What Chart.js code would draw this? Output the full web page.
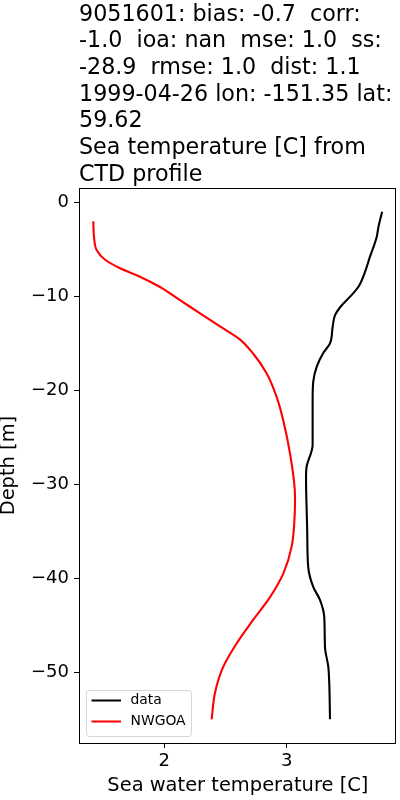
<!DOCTYPE html>
<html><head><meta charset="utf-8">
<script src="https://cdn.jsdelivr.net/npm/chart.js@4/dist/chart.umd.min.js"></script>
<style>html,body{margin:0;padding:0;background:#fff;} #wrap{width:400px;height:800px;}</style>
</head><body><div id="wrap"><canvas id="c" width="400" height="800"></canvas></div>
<script>
const titleLines = [
  '9051601: bias: -0.7  corr:',
  '-1.0  ioa: nan  mse: 1.0  ss:',
  '-28.9  rmse: 1.0  dist: 1.1',
  '1999-04-26 lon: -151.35 lat:',
  '59.62',
  'Sea temperature [C] from',
  'CTD profile'
];
const seriesNames = ['data', 'NWGOA'];
const xAxisTitle = 'Sea water temperature [C]';
const yAxisTitle = 'Depth [m]';

// observed CTD profile
const dataDepth = [-1, -2.6, -3.7, -5.8, -7.4, -9, -10, -11.1, -12, -13.2, -15, -16, -17.5, -19.1, -21, -25.8, -28.1, -29.2, -35.2, -38.8, -40.9, -42.3, -44.1, -47.3, -49.4, -51.2, -55];
const dataTemp  = [3.78, 3.75, 3.735, 3.68, 3.64, 3.585, 3.52, 3.44, 3.395, 3.376, 3.354, 3.30, 3.245, 3.217, 3.212, 3.212, 3.163, 3.158, 3.168, 3.176, 3.217, 3.272, 3.307, 3.313, 3.340, 3.348, 3.354];

// model profile (NWGOA)
const modelDepth = [-2, -3.7, -5.1, -6.1, -7, -7.9, -9, -10.4, -11.8, -13.2, -14.6, -16.1, -18.2, -20.7, -23.2, -26.7, -31.3, -33.1, -36.6, -39.5, -42, -44.4, -46.9, -49.4, -52.2, -55];
const modelTemp  = [1.42, 1.426, 1.448, 1.516, 1.638, 1.801, 1.965, 2.128, 2.292, 2.455, 2.619, 2.727, 2.837, 2.918, 2.972, 3.027, 3.068, 3.066, 3.041, 2.972, 2.864, 2.727, 2.592, 2.482, 2.414, 2.387];

const xTickValues = [2, 3];
const yTickValues = [0, -10, -20, -30, -40, -50];

Chart.defaults.font.family = "'DejaVu Sans', sans-serif";
Chart.defaults.color = '#000';

const fmt = v => (v < 0 ? '\u2212' + Math.abs(v) : String(v));

const framePlugin = {
  id: 'frame',
  afterLayout(chart) {
    if (chart.titleBlock) chart.titleBlock.left = chart.chartArea.left;
  },
  afterDraw(chart) {
    const ctx = chart.ctx, a = chart.chartArea;
    ctx.save();
    ctx.strokeStyle = '#000';
    ctx.lineWidth = 1;
    const l = Math.floor(a.left) + 0.5, t = Math.floor(a.top) + 0.5;
    const r = Math.floor(a.right) - 0.5, b = Math.round(a.bottom) + 0.5;
    ctx.strokeRect(l, t, r - l, b - t);

    // legend (lower left inside axes)
    const lx = a.left + 7, lb = a.bottom - 7, lw = 105, lh = 46;
    const ly = lb - lh;
    ctx.beginPath();
    ctx.roundRect(lx + 0.5, ly + 0.5, lw, lh, 3);
    ctx.fillStyle = 'rgba(255,255,255,0.8)';
    ctx.fill();
    ctx.strokeStyle = 'rgba(204,204,204,0.8)';
    ctx.lineWidth = 1;
    ctx.stroke();
    const rows = [lb - 35.5, lb - 14.5];
    ctx.font = "13.9px 'DejaVu Sans', sans-serif";
    ctx.textBaseline = 'middle';
    ctx.textAlign = 'left';
    chart.data.datasets.forEach((ds, i) => {
      ctx.beginPath();
      ctx.strokeStyle = ds.borderColor;
      ctx.lineWidth = 2;
      ctx.moveTo(lx + 5.5, rows[i]);
      ctx.lineTo(lx + 35, rows[i]);
      ctx.stroke();
      ctx.fillStyle = '#000';
      ctx.fillText(ds.label, lx + 44.5, rows[i]);
    });
    ctx.restore();
  }
};

new Chart(document.getElementById('c'), {
  type: 'line',
  data: {
    datasets: [
      {
        label: seriesNames[0],
        data: dataDepth.map((d, i) => ({ x: dataTemp[i], y: d })),
        borderColor: '#000000',
        backgroundColor: '#000000',
        borderWidth: 2.1,
        pointRadius: 0,
        cubicInterpolationMode: 'monotone',
        fill: false
      },
      {
        label: seriesNames[1],
        data: modelDepth.map((d, i) => ({ x: modelTemp[i], y: d })),
        borderColor: '#ff0000',
        backgroundColor: '#ff0000',
        borderWidth: 2.1,
        pointRadius: 0,
        cubicInterpolationMode: 'monotone',
        fill: false
      }
    ]
  },
  options: {
    indexAxis: 'y',
    responsive: false,
    animation: false,
    devicePixelRatio: 1,
    layout: { padding: { left: 0, right: 3.3, top: 0, bottom: 0 } },
    plugins: {
      legend: { display: false },
      tooltip: { enabled: false },
      title: {
        display: true,
        text: titleLines,
        align: 'start',
        color: '#000',
        font: { size: 22.22, weight: 'normal', lineHeight: 1.2 },
        padding: { top: 1.5, bottom: 0 }
      }
    },
    scales: {
      x: {
        type: 'linear',
        position: 'bottom',
        min: 1.303,
        max: 3.899,
        bounds: 'data',
        afterBuildTicks: s => { s.ticks = xTickValues.map(v => ({ value: v })); },
        afterFit: s => { s.height = 57; },
        grid: { display: true, drawOnChartArea: false, drawTicks: true, tickLength: 5, color: '#000', lineWidth: 1 },
        border: { display: false },
        ticks: { color: '#000', font: { size: 18 }, padding: 2.2, maxRotation: 0, autoSkip: false, callback: v => fmt(v) },
        title: { display: true, text: xAxisTitle, color: '#000', font: { size: 19.44 }, padding: { top: 0, bottom: 2.4 } }
      },
      y: {
        type: 'linear',
        position: 'left',
        min: -57.52,
        max: 1.52,
        bounds: 'data',
        afterBuildTicks: s => { s.ticks = yTickValues.map(v => ({ value: v })); },
        afterFit: s => { s.width = 79; },
        grid: { display: true, drawOnChartArea: false, drawTicks: true, tickLength: 5, color: '#000', lineWidth: 1 },
        border: { display: false },
        ticks: { color: '#000', font: { size: 18 }, padding: 5, autoSkip: false, callback: v => fmt(v) },
        title: { display: true, text: yAxisTitle, color: '#000', font: { size: 19.44 }, padding: { top: -3, bottom: 0 } }
      }
    }
  },
  plugins: [framePlugin]
});
</script>
</body></html>
